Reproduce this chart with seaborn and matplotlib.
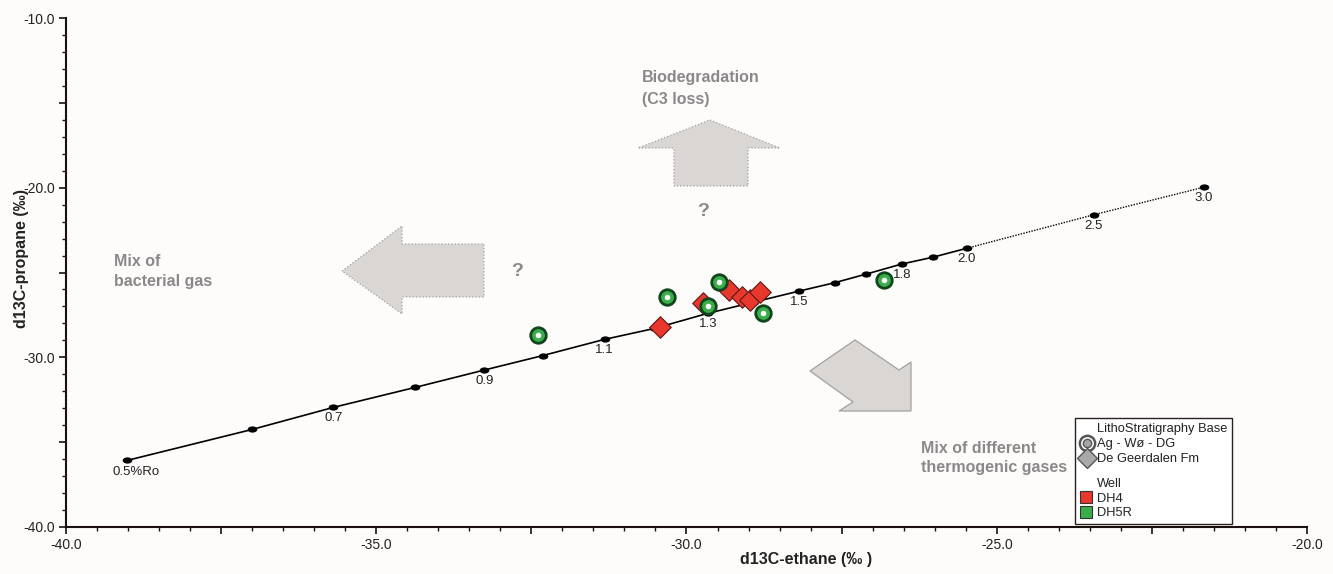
import pandas as pd
import matplotlib
matplotlib.use("Agg")
import matplotlib.pyplot as plt
import seaborn as sns
from matplotlib.lines import Line2D
from matplotlib.patches import Patch, Polygon, Rectangle
from matplotlib.legend_handler import HandlerPatch
from matplotlib.path import Path
from matplotlib.ticker import MultipleLocator, FuncFormatter

# Maturity line (vitrinite reflectance, %Ro)
ro_values = [0.5, 0.6, 0.7, 0.8, 0.9, 1.0, 1.1, 1.2, 1.3, 1.4, 1.5,
             1.6, 1.7, 1.8, 1.9, 2.0, 2.5, 3.0]
ro_ethane = [-39.02, -37.0, -35.69, -34.37, -33.26, -32.32, -31.32, -30.52,
             -29.65, -28.92, -28.19, -27.61, -27.11, -26.53, -26.03, -25.48,
             -23.44, -21.66]
ro_propane = [-36.08, -34.25, -32.95, -31.77, -30.75, -29.9, -28.94, -28.3,
              -27.4, -26.75, -26.1, -25.6, -25.1, -24.5, -24.1, -23.57,
              -21.6, -19.97]
ro_labels = ["0.5%Ro", "", "0.7", "", "0.9", "", "1.1", "", "1.3", "", "1.5",
             "", "", "1.8", "", "2.0", "2.5", "3.0"]

# Samples
dh4_ethane = [-30.42, -29.74, -29.31, -29.1, -28.98, -28.81]
dh4_propane = [-28.23, -26.8, -26.05, -26.46, -26.64, -26.17]
dh5r_ethane = [-32.39, -30.32, -29.47, -29.65, -28.77, -26.82]
dh5r_propane = [-28.7, -26.46, -25.58, -27.0, -27.4, -25.46]

ro = pd.DataFrame({"ethane": ro_ethane, "propane": ro_propane,
                   "ro": ro_values, "label": ro_labels})
dh4 = pd.DataFrame({"ethane": dh4_ethane, "propane": dh4_propane})
dh5r = pd.DataFrame({"ethane": dh5r_ethane, "propane": dh5r_propane})

sns.set_style("ticks")
plt.rcParams["font.family"] = ["Liberation Sans", "DejaVu Sans"]

bg = "#fdfcfb"
grey_txt = "#8a8888"
arrow_fc = "#d9d6d4"

fig = plt.figure(figsize=(13.33, 5.74), dpi=100, facecolor=bg)
ax = fig.add_axes([66 / 1333, 47 / 574, 1241 / 1333, 509 / 574])
ax.set_facecolor(bg)

# arrows (axes fraction)
left_arrow = [(0.2224, 0.5029), (0.2708, 0.5914), (0.2708, 0.5560), (0.3368, 0.5560),
              (0.3368, 0.4519), (0.2708, 0.4519), (0.2708, 0.4185)]
up_arrow = [(0.5189, 0.7996), (0.5753, 0.7446), (0.5496, 0.7446), (0.5496, 0.6699),
            (0.4899, 0.6699), (0.4899, 0.7446), (0.4609, 0.7446)]
down_arrow = [(0.5995, 0.3065), (0.6358, 0.3674), (0.6712, 0.3084), (0.6809, 0.3242),
              (0.6809, 0.2279), (0.6229, 0.2279), (0.6342, 0.2456)]
for pts, ls in [(left_arrow, ":"), (up_arrow, ":"), (down_arrow, "-")]:
    ax.add_patch(Polygon(pts, closed=True, transform=ax.transAxes, fc=arrow_fc,
                         ec="#a3a1a0", lw=0.9, ls=ls, zorder=1))

# flattened dot for the maturity points
circ = Path.unit_circle()
ellipse = Path(circ.vertices * [1.0, 0.65], circ.codes)

# maturity line
solid = ro[ro["ro"] <= 2.0]
dotted = ro[ro["ro"] >= 2.0]
sns.lineplot(data=solid, x="ethane", y="propane", sort=False, color="black",
             lw=1.2, ax=ax, zorder=2)
sns.lineplot(data=dotted, x="ethane", y="propane", sort=False, color="black",
             lw=1.0, ls=(0, (1, 1)), ax=ax, zorder=2)
sns.scatterplot(data=ro, x="ethane", y="propane", color="black", s=48,
                marker=ellipse, edgecolor="black", linewidth=0, ax=ax, zorder=3)
for _, r in ro.iterrows():
    if r["label"]:
        dx = 7 if r["label"] == "0.5%Ro" else 0
        ax.annotate(r["label"], (r["ethane"], r["propane"]), xytext=(dx, -8),
                    textcoords="offset points", ha="center", va="center",
                    fontsize=9.5, color="#222222", zorder=4)

# samples
sns.scatterplot(data=dh4, x="ethane", y="propane", marker="D", s=120,
                color="#e8372d", edgecolor="#5a1a14", linewidth=0.8, ax=ax, zorder=5)
sns.scatterplot(data=dh5r, x="ethane", y="propane", marker="o", s=125,
                color="#3aae4a", edgecolor="#10461c", linewidth=2.0, ax=ax, zorder=6)
sns.scatterplot(data=dh5r, x="ethane", y="propane", marker="o", s=16,
                color="white", linewidth=0, ax=ax, zorder=7)

# annotations
txt = dict(transform=ax.transAxes, color=grey_txt, fontweight="bold", zorder=4)
ax.text(0.464, 0.8615, "Biodegradation\n(C3 loss)", fontsize=11.5, ha="left",
        va="center", linespacing=1.65, **txt)
ax.text(0.0387, 0.502, "Mix of\nbacterial gas", fontsize=11.5, ha="left",
        va="center", linespacing=1.45, **txt)
ax.text(0.689, 0.1356, "Mix of different\nthermogenic gases", fontsize=11.5,
        ha="left", va="center", linespacing=1.4, **txt)
ax.text(0.3634, 0.501, "?", fontsize=14, ha="center", va="center", **txt)
ax.text(0.5133, 0.6208, "?", fontsize=14, ha="center", va="center", **txt)

# axes
ax.set_xlim(-40, -20)
ax.set_ylim(-40, -10)
ax.xaxis.set_major_locator(MultipleLocator(2.5))
ax.xaxis.set_minor_locator(MultipleLocator(0.5))
ax.yaxis.set_major_locator(MultipleLocator(5))
ax.yaxis.set_minor_locator(MultipleLocator(1))
ax.xaxis.set_major_formatter(FuncFormatter(lambda v, p: f"{v:.1f}" if abs(v % 5) < 1e-6 else ""))
ax.yaxis.set_major_formatter(FuncFormatter(lambda v, p: f"{v:.1f}" if abs(v % 10) < 1e-6 else ""))
ax.tick_params(which="major", length=5, width=1.2, labelsize=10, colors="#1a1010",
               labelcolor="#222222", pad=3)
ax.tick_params(which="minor", length=3, width=1.0, colors="#1a1010")
sns.despine(ax=ax)
for s in ["left", "bottom"]:
    ax.spines[s].set_linewidth(1.5)
    ax.spines[s].set_color("#1a1010")

ax.set_xlabel("d13C-ethane (‰ )", fontsize=11.5, fontweight="bold", color="#222222")
ax.set_ylabel("d13C-propane (‰)", fontsize=11.5, fontweight="bold", color="#222222")
ax.xaxis.set_label_coords(0.596, -0.05)
ax.yaxis.set_label_coords(-0.03, 0.528)


# legend: square swatches drawn bigger than the (short) handle box
def square(legend, orig_handle, xdescent, ydescent, width, height, fontsize):
    side = 0.95 * fontsize
    return Rectangle((-xdescent, -ydescent + height / 2 - side / 2), side, side)


empty = Line2D([], [], ls="none")
ring = (Line2D([], [], ls="none", marker="o", ms=11, mfc="white", mec="#555555", mew=1.8),
        Line2D([], [], ls="none", marker="o", ms=6, mfc="#a5a5a5", mec="#555555", mew=1.0))
diamond = Line2D([], [], ls="none", marker="D", ms=10, mfc="#a8a8a8", mec="#555555", mew=1.0)
dh4_patch = Patch(fc="#e8372d", ec="#333333", lw=0.8)
dh5r_patch = Patch(fc="#3aae4a", ec="#333333", lw=0.8)
handles = [empty, ring, diamond, empty, empty, dh4_patch, dh5r_patch]
labels = ["LithoStratigraphy Base", "Ag - Wø - DG", "De Geerdalen Fm", " ", "Well",
          "DH4", "DH5R"]
leg = ax.legend(handles, labels, loc="lower right", bbox_to_anchor=(0.9396, 0.006),
                borderaxespad=0, fontsize=9.3, frameon=True, fancybox=False,
                edgecolor="#2a2020", framealpha=1, facecolor="white",
                handlelength=1.1, handleheight=0.3, handletextpad=0.25,
                borderpad=0.35, labelspacing=0.22,
                handler_map={Patch: HandlerPatch(patch_func=square)})
leg.get_frame().set_linewidth(1.0)
leg.get_texts()[3].set_fontsize(1)
for t in leg.get_texts():
    t.set_color("#222222")
leg.set_zorder(10)

fig.savefig("out.png", dpi=100, facecolor=bg)
